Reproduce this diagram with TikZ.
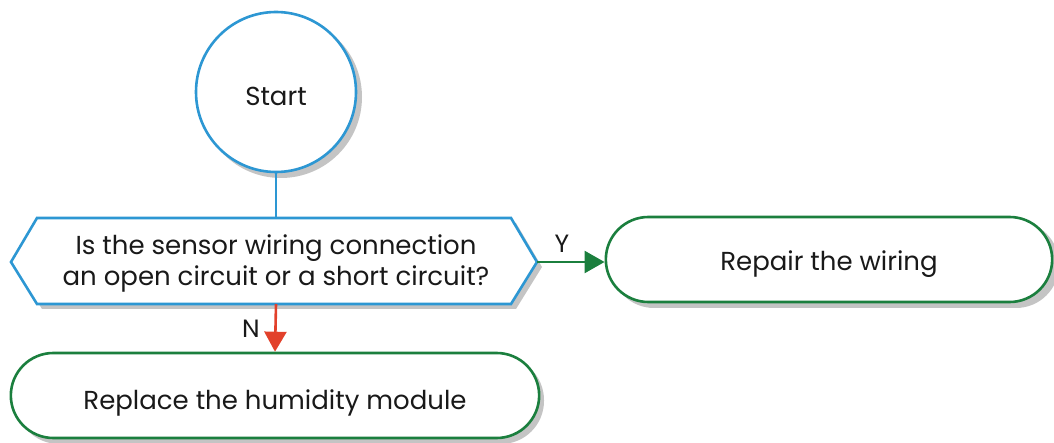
\documentclass[tikz,border=0pt]{standalone}
\usepackage{fontspec}
\setmainfont{Poppins}
\usetikzlibrary{arrows.meta,shapes.misc}
\definecolor{flowblue}{HTML}{2D97D3}
\definecolor{flowgreen}{HTML}{1B7F3E}
\definecolor{flowred}{HTML}{E2412B}
\definecolor{shadowgray}{HTML}{C4C4C4}
\tikzset{
  txt/.style={font=\fontsize{26}{31}\selectfont, align=center, text=black!90},
  boxtxt/.style={txt, text height=#1, text depth=0pt},
  boxtxt/.default=26pt,
  blueline/.style={draw=flowblue, line width=2.6pt},
  greenline/.style={draw=flowgreen, line width=2.6pt},
  shadow/.style={fill=shadowgray, draw=none},
  yarrow/.style={flowgreen, line width=2.6pt, -{Triangle[length=20pt,width=22pt]}},
  narrow/.style={flowred, line width=2.6pt, -{Triangle[length=20pt,width=22pt]}},
  lbl/.style={font=\fontsize{25}{28}\selectfont, text=black!90}
}
\begin{document}
\begin{tikzpicture}[x=1pt,y=-1pt]
\useasboundingbox (0,0) rectangle (1054,443);
% shadows
\fill[shadow] (281,97) circle (81);
\fill[shadow] (42,223) -- (516,223) -- (542,267) -- (516,309) -- (42,309) -- (16,267) -- cycle;
\fill[shadow, rounded corners=43] (611,221) rectangle (1059,308);
\fill[shadow, rounded corners=43] (16,357) rectangle (544,444);
% start
\node[circle, minimum size=160pt, fill=white, blueline, boxtxt=27pt] (start) at (276,92) {Start};
% decision
\path[fill=white, blueline] (37,218) -- (511,218) -- (537,262) coordinate (dright) -- (511,304) -- (37,304) -- (11,262) -- cycle;
\node[txt] (dec) at (276,263) {Is the sensor wiring connection\\an open circuit or a short circuit?};
\coordinate (dtop) at (276,218);
\coordinate (dbot) at (276,304);
% outcomes
\node[rounded rectangle, fill=white, greenline, minimum width=453pt, minimum height=85pt, boxtxt=22pt] (repair) at (829,259.5) {Repair the wiring};
\node[rounded rectangle, fill=white, greenline, minimum width=535pt, minimum height=85pt, boxtxt=28pt] (replace) at (275,395.5) {Replace the humidity module};
% connectors
\draw[blueline] (start.south) -- (dtop);
\draw[yarrow] (dright) -- (dright -| repair.west);
\draw[narrow] (dbot) -- (replace.north);
\node[lbl] (ylbl) at (562,244) {Y};
\node[lbl] (nlbl) at (251,329) {N};
\end{tikzpicture}
\end{document}
